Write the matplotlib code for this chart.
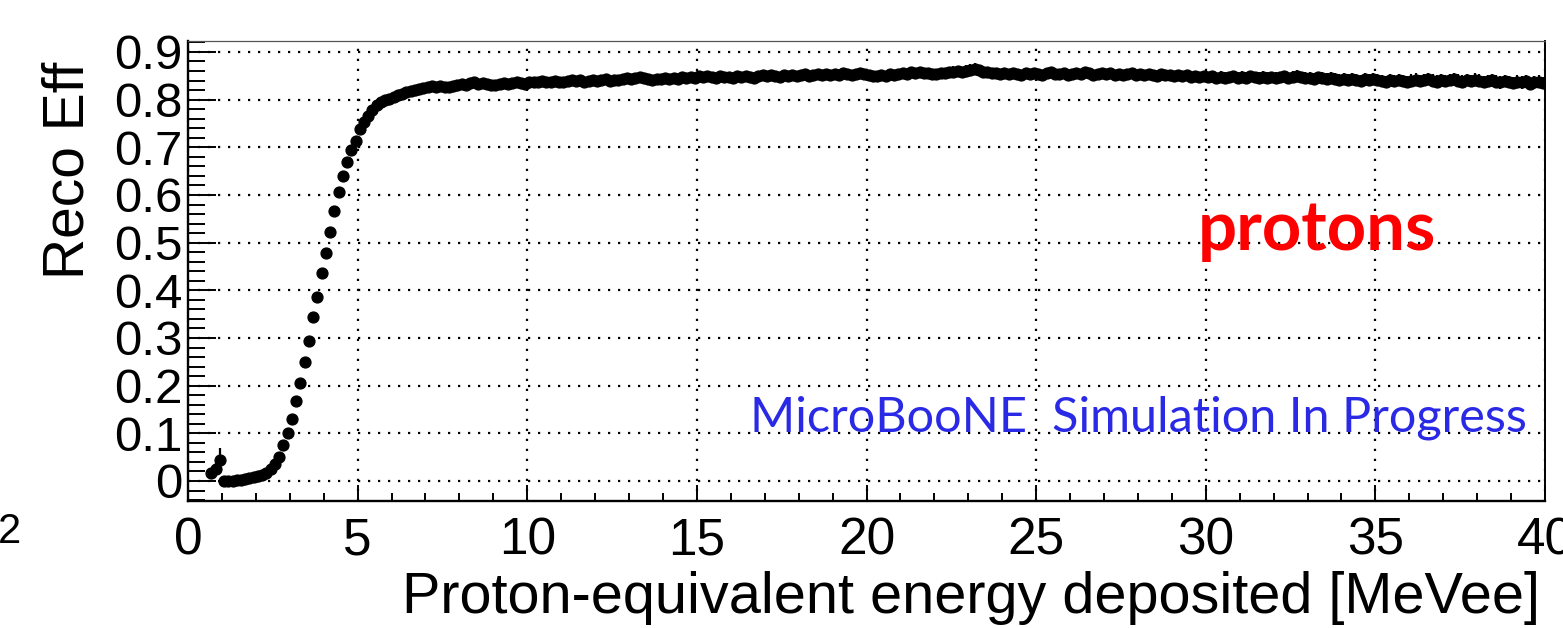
import numpy as np
import matplotlib
matplotlib.use("Agg")
import matplotlib.pyplot as plt
from matplotlib.ticker import MultipleLocator, FixedLocator, FixedFormatter

plt.rcParams['font.family'] = ['Liberation Sans', 'DejaVu Sans']

# histogram binning: 320 bins of 0.125 MeVee from 0 to 40
x_lo, x_hi, n_bins = 0.0, 40.0, 320

# reco efficiency per bin, one row = 1 MeVee (8 bins); nan = empty bin
nan = np.nan
eff = [
    nan, nan, nan, nan, nan, 0.017, 0.025, 0.045,
    0.000, 0.001, 0.001, 0.002, 0.003, 0.004, 0.006, 0.008,
    0.010, 0.013, 0.017, 0.025, 0.036, 0.051, 0.075, 0.100,
    0.131, 0.168, 0.205, 0.249, 0.294, 0.344, 0.385, 0.437,
    0.479, 0.523, 0.567, 0.606, 0.639, 0.669, 0.695, 0.714,
    0.739, 0.754, 0.766, 0.778, 0.788, 0.795, 0.799, 0.802,
    0.805, 0.809, 0.812, 0.815, 0.818, 0.821, 0.823, 0.824,
    0.826, 0.828, 0.827, 0.829, 0.827, 0.826, 0.829, 0.831,
    0.832, 0.830, 0.834, 0.836, 0.833, 0.835, 0.832, 0.831,
    0.830, 0.832, 0.834, 0.833, 0.835, 0.836, 0.834, 0.833,
    0.836, 0.838, 0.837, 0.839, 0.836, 0.838, 0.840, 0.837,
    0.838, 0.840, 0.842, 0.839, 0.841, 0.838, 0.840, 0.841,
    0.839, 0.841, 0.843, 0.840, 0.842, 0.841, 0.843, 0.845,
    0.844, 0.846, 0.848, 0.845, 0.843, 0.842, 0.844, 0.843,
    0.845, 0.843, 0.846, 0.844, 0.847, 0.845, 0.848, 0.846,
    0.849, 0.847, 0.850, 0.848, 0.846, 0.849, 0.847, 0.848,
    0.846, 0.849, 0.847, 0.850, 0.848, 0.846, 0.849, 0.851,
    0.849, 0.852, 0.850, 0.848, 0.851, 0.849, 0.852, 0.850,
    0.851, 0.853, 0.850, 0.852, 0.854, 0.851, 0.853, 0.852,
    0.854, 0.852, 0.855, 0.853, 0.851, 0.854, 0.856, 0.853,
    0.852, 0.849, 0.850, 0.852, 0.850, 0.853, 0.851, 0.854,
    0.856, 0.854, 0.857, 0.855, 0.858, 0.856, 0.855, 0.853,
    0.854, 0.856, 0.855, 0.857, 0.859, 0.860, 0.858, 0.861,
    0.863, 0.865, 0.862, 0.859, 0.857, 0.855, 0.856, 0.854,
    0.855, 0.853, 0.856, 0.854, 0.852, 0.855, 0.853, 0.856,
    0.854, 0.852, 0.855, 0.857, 0.854, 0.853, 0.855, 0.852,
    0.854, 0.856, 0.853, 0.857, 0.855, 0.852, 0.854, 0.856,
    0.853, 0.855, 0.852, 0.854, 0.851, 0.853, 0.855, 0.852,
    0.853, 0.851, 0.854, 0.852, 0.850, 0.853, 0.851, 0.852,
    0.850, 0.852, 0.849, 0.851, 0.848, 0.850, 0.847, 0.849,
    0.847, 0.849, 0.846, 0.848, 0.845, 0.847, 0.849, 0.846,
    0.848, 0.846, 0.849, 0.847, 0.845, 0.848, 0.846, 0.847,
    0.845, 0.847, 0.849, 0.846, 0.848, 0.850, 0.847, 0.845,
    0.846, 0.844, 0.847, 0.845, 0.843, 0.846, 0.844, 0.842,
    0.843, 0.841, 0.844, 0.842, 0.840, 0.843, 0.841, 0.844,
    0.842, 0.840, 0.838, 0.841, 0.839, 0.842, 0.840, 0.838,
    0.840, 0.842, 0.839, 0.841, 0.843, 0.840, 0.838, 0.841,
    0.839, 0.841, 0.843, 0.840, 0.838, 0.841, 0.839, 0.842,
    0.840, 0.837, 0.839, 0.841, 0.838, 0.836, 0.839, 0.837,
    0.835, 0.838, 0.836, 0.839, 0.833, 0.836, 0.838, 0.835,
]

# error bar size, read per MeVee; the first filled bins are listed apart
err_per_mev = [0.0, 0.003, 0.005, 0.009, 0.010, 0.009, 0.009, 0.009, 0.009, 0.009,
               0.009, 0.010, 0.010, 0.010, 0.010, 0.010, 0.010, 0.010, 0.010, 0.010,
               0.011, 0.011, 0.011, 0.011, 0.011, 0.011, 0.011, 0.011, 0.011, 0.011,
               0.012, 0.012, 0.012, 0.012, 0.012, 0.012, 0.013, 0.013, 0.013, 0.013]
err_first = [0.010, 0.012, 0.024]

y_ticks = [0.0, 0.1, 0.2, 0.3, 0.4, 0.5, 0.6, 0.7, 0.8, 0.9]
y_tick_labels = ["0", "0.1", "0.2", "0.3", "0.4", "0.5", "0.6", "0.7", "0.8", "0.9"]
x_ticks = [0, 5, 10, 15, 20, 25, 30, 35, 40]
x_tick_labels = ["0", "5", "10", "15", "20", "25", "30", "35", "40"]

edges = np.linspace(x_lo, x_hi, n_bins + 1)
centers = 0.5 * (edges[:-1] + edges[1:])
eff = np.array(eff)
err = np.repeat(err_per_mev, 8)
err[5:8] = err_first

fig = plt.figure(figsize=(15.63, 6.28), dpi=100)
ax = fig.add_axes([188 / 1563, 1 - 501 / 628, (1545 - 188) / 1563, (501 - 41) / 628])

ax.errorbar(centers, eff, yerr=err, fmt='o', color='black', ms=7.8,
            elinewidth=1.6, capsize=0, zorder=3)

ax.set_xlim(x_lo, x_hi)
ax.set_ylim(-0.042, 0.923)

ax.xaxis.set_major_locator(FixedLocator(x_ticks))
ax.xaxis.set_major_formatter(FixedFormatter(x_tick_labels))
ax.xaxis.set_minor_locator(MultipleLocator(1))
ax.yaxis.set_major_locator(FixedLocator(y_ticks))
ax.yaxis.set_major_formatter(FixedFormatter(y_tick_labels))
ax.yaxis.set_minor_locator(MultipleLocator(0.02))

ax.tick_params(axis='both', which='both', direction='in', top=False, right=False, width=1.4, color='black')
ax.tick_params(axis='y', which='major', length=20, pad=4, labelsize=35.5)
ax.tick_params(axis='y', which='minor', length=12)
ax.tick_params(axis='x', which='major', length=11.5, pad=11, labelsize=37)
ax.tick_params(axis='x', which='minor', length=6)

ax.grid(True, which='major', color='black', linestyle=(0, (1, 3.5)), linewidth=1.6)
ax.set_axisbelow(True)

for side in ['left', 'bottom']:
    ax.spines[side].set_linewidth(1.7)
ax.spines['right'].set_linewidth(1.4)
ax.spines['top'].set_linewidth(0.9)
ax.spines['top'].set_color('#555555')

fig.text(1540 / 1563, 1 - 613 / 628, "Proton-equivalent energy deposited [MeVee]",
         ha='right', va='baseline', fontsize=41.5)
fig.text(84 / 1563, 1 - 62 / 628, "Reco Eff", rotation=90, rotation_mode='anchor',
         ha='right', va='baseline', fontsize=41)
fig.text(21 / 1563, 1 - 543 / 628, "2", ha='right', va='baseline', fontsize=30)

fig.text(1198 / 1563, 1 - 250 / 628, "protons", color='#ff0000', fontsize=49.5,
         fontweight='bold', family=['Lato', 'DejaVu Sans'], ha='left', va='baseline')
fig.text(750 / 1563, 1 - 432 / 628, "MicroBooNE  Simulation In Progress", color='#2a2ae6',
         fontsize=35, family=['Lato', 'DejaVu Sans'], ha='left', va='baseline')

fig.savefig("out.png", dpi=100)
